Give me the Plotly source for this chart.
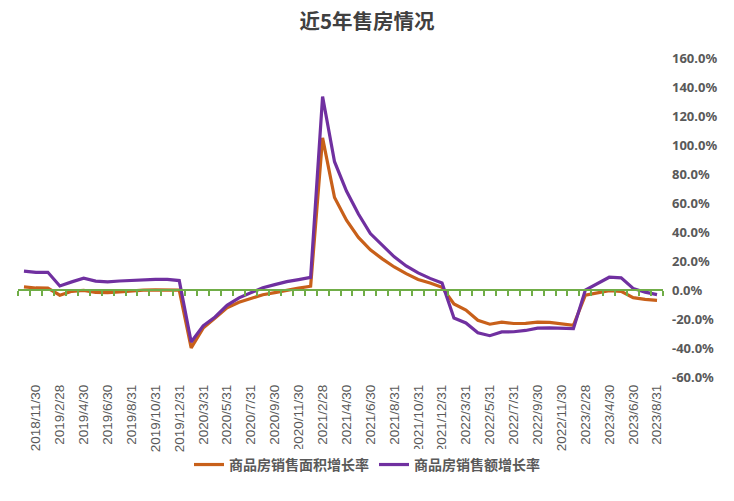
import plotly.graph_objects as go

dates = [
    "2018/10/31", "2018/11/30", "2018/12/31",
    "2019/2/28", "2019/3/31", "2019/4/30", "2019/5/31", "2019/6/30", "2019/7/31",
    "2019/8/31", "2019/9/30", "2019/10/31", "2019/11/30", "2019/12/31",
    "2020/2/29", "2020/3/31", "2020/4/30", "2020/5/31", "2020/6/30", "2020/7/31",
    "2020/8/31", "2020/9/30", "2020/10/31", "2020/11/30", "2020/12/31",
    "2021/2/28", "2021/3/31", "2021/4/30", "2021/5/31", "2021/6/30", "2021/7/31",
    "2021/8/31", "2021/9/30", "2021/10/31", "2021/11/30", "2021/12/31",
    "2022/2/28", "2022/3/31", "2022/4/30", "2022/5/31", "2022/6/30", "2022/7/31",
    "2022/8/31", "2022/9/30", "2022/10/31", "2022/11/30", "2022/12/31",
    "2023/2/28", "2023/3/31", "2023/4/30", "2023/5/31", "2023/6/30", "2023/7/31",
    "2023/8/31",
]

area_growth = [
    2.2, 1.4, 1.3,
    -3.6, -0.9, -0.3, -1.6, -1.8, -1.3, -0.6, -0.1, 0.1, 0.2, -0.1,
    -39.9, -26.3, -19.3, -12.3, -8.4, -5.8, -3.3, -1.8, 0.0, 1.3, 2.6,
    104.9, 63.8, 48.1, 36.3, 27.7, 21.5, 15.9, 11.3, 7.3, 4.8, 1.9,
    -9.6, -13.8, -20.9, -23.6, -22.2, -23.1, -23.0, -22.2, -22.3, -23.3, -24.3,
    -3.6, -1.8, -0.4, -0.9, -5.3, -6.5, -7.1,
]

amount_growth = [
    13.0, 12.1, 12.2,
    2.8, 5.6, 8.1, 6.1, 5.6, 6.2, 6.7, 7.1, 7.3, 7.3, 6.5,
    -35.9, -24.7, -18.6, -10.6, -5.4, -2.1, 1.6, 3.7, 5.8, 7.2, 8.7,
    133.4, 88.5, 68.2, 52.4, 38.9, 30.7, 22.9, 16.6, 11.8, 8.0, 4.8,
    -19.3, -22.7, -29.5, -31.5, -28.9, -28.8, -27.9, -26.3, -26.1, -26.6, -26.7,
    -0.1, 4.1, 8.8, 8.4, 1.1, -1.5, -3.2,
]

series_names = ["商品房销售面积增长率", "商品房销售额增长率"]
y_ticks = [-60, -40, -20, 0, 20, 40, 60, 80, 100, 120, 140, 160]

idx = list(range(len(dates)))
label_idx = idx[1::2]
label_txt = [dates[i] for i in label_idx]
boundaries = [i - 0.5 for i in range(len(dates) + 1)]

YMIN, YMAX = -60, 160
zero_pos = (0 - YMIN) / (YMAX - YMIN)

fig = go.Figure()

# invisible trace to carry the zero-line axis (x2)
fig.add_trace(go.Scatter(x=[idx[0], idx[-1]], y=[0, 0], xaxis="x2", yaxis="y",
                         mode="lines", line=dict(width=0), hoverinfo="skip",
                         showlegend=False))

fig.add_trace(go.Scatter(x=idx, y=area_growth, name=series_names[0], mode="lines",
                         line=dict(color="#C8601A", width=3.2)))
fig.add_trace(go.Scatter(x=idx, y=amount_growth, name=series_names[1], mode="lines",
                         line=dict(color="#7030A0", width=3.2)))

fig.update_layout(
    width=734, height=501,
    paper_bgcolor="white", plot_bgcolor="white",
    margin=dict(l=18, r=71, t=58, b=124, autoexpand=False),
    title=dict(text="<b>近5年售房情况</b>", x=0.5, xref="container", xanchor="center",
               y=0.956, yref="container", yanchor="middle",
               font=dict(family="Noto Sans CJK SC", size=20.5, color="#404040")),
    xaxis=dict(range=[-0.5, len(dates) - 0.5], tickmode="array",
               tickvals=label_idx, ticktext=label_txt, tickangle=-90,
               showgrid=False, zeroline=False, showline=False, ticks="",
               automargin=False, ticklabelstandoff=4,
               tickfont=dict(family="Liberation Sans", size=13.5, color="#595959")),
    xaxis2=dict(range=[-0.5, len(dates) - 0.5], overlaying="x", anchor="free",
                position=zero_pos, side="bottom", showline=True,
                linecolor="#70AD47", linewidth=2, ticks="outside",
                tickcolor="#70AD47", tickwidth=2, ticklen=5,
                tickmode="array", tickvals=boundaries, showticklabels=False,
                showgrid=False, zeroline=False, automargin=False),
    yaxis=dict(range=[YMIN, YMAX], side="right", tickmode="array",
               tickvals=y_ticks, ticktext=[f"{v:.1f}%" for v in y_ticks],
               showgrid=False, zeroline=False, showline=False, ticks="",
               ticklabelstandoff=8, automargin=False,
               tickfont=dict(family="Noto Sans", size=13, color="#595959",
                             weight="bold")),
    legend=dict(orientation="h", x=0.5, xref="container", xanchor="center",
                y=0.072, yref="container", yanchor="middle",
                font=dict(family="Noto Sans CJK SC", size=14, color="#595959",
                          weight="bold"),
                itemwidth=30, tracegroupgap=0),
    showlegend=True,
)

fig.write_html("out.html", config={"displayModeBar": False},
               post_script="document.body.style.margin='0';")
